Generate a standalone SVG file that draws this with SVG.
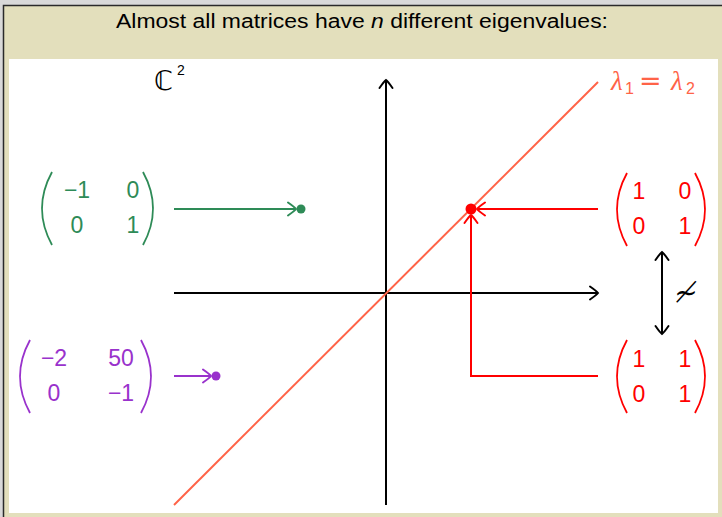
<svg xmlns="http://www.w3.org/2000/svg" width="722" height="517" viewBox="0 0 722 517">
<style>
.sans{font-family:"Liberation Sans","DejaVu Sans",sans-serif;}
.num{font-family:"Liberation Sans","DejaVu Sans",sans-serif;font-size:23px;text-anchor:middle;}
.paren{fill:none;stroke-width:1.8;}
.ax{stroke:#000;stroke-width:2;fill:none;}
.g{fill:#2e8b57;} .gs{stroke:#2e8b57;}
.p{fill:#9932cc;} .ps{stroke:#9932cc;}
.r{fill:#ff0000;} .rs{stroke:#ff0000;}
</style>
<defs>
<marker id="toK" viewBox="-10 -8 12 16" refX="0" refY="0" markerWidth="12" markerHeight="16" markerUnits="userSpaceOnUse" orient="auto-start-reverse">
<path d="M-8,-6.5 Q-1.5,-2 0,0 Q-1.5,2 -8,6.5" fill="none" stroke="#000" stroke-width="2" stroke-linecap="round"/>
</marker>
<marker id="toG" viewBox="-10 -8 12 16" refX="0" refY="0" markerWidth="12" markerHeight="16" markerUnits="userSpaceOnUse" orient="auto">
<path d="M-8,-6.5 Q-1.5,-2 0,0 Q-1.5,2 -8,6.5" fill="none" stroke="#2e8b57" stroke-width="2" stroke-linecap="round"/>
</marker>
<marker id="toP" viewBox="-10 -8 12 16" refX="0" refY="0" markerWidth="12" markerHeight="16" markerUnits="userSpaceOnUse" orient="auto">
<path d="M-8,-6.5 Q-1.5,-2 0,0 Q-1.5,2 -8,6.5" fill="none" stroke="#9932cc" stroke-width="2" stroke-linecap="round"/>
</marker>
<marker id="toR" viewBox="-10 -8 12 16" refX="0" refY="0" markerWidth="12" markerHeight="16" markerUnits="userSpaceOnUse" orient="auto">
<path d="M-8,-6.5 Q-1.5,-2 0,0 Q-1.5,2 -8,6.5" fill="none" stroke="#ff0000" stroke-width="2" stroke-linecap="round"/>
</marker>
</defs>
<!-- background -->
<rect x="0" y="0" width="722" height="517" fill="#d9d9d9"/>
<rect x="3.5" y="5.5" width="720" height="513" fill="#e3dfbc" stroke="#2a2a2a" stroke-width="1.5"/>
<rect x="9" y="59" width="709" height="454" fill="#ffffff"/>

<g id="title">
<text class="sans" x="362" y="28" font-size="20" text-anchor="middle" textLength="492" lengthAdjust="spacingAndGlyphs">Almost all matrices have <tspan font-style="italic">n</tspan> different eigenvalues:</text>
</g>

<g id="space-label">
<text x="154" y="90" font-family="DejaVu Sans, sans-serif" font-size="27" fill="#000">ℂ</text>
<text x="177" y="75" font-family="Liberation Sans, sans-serif" font-size="14" fill="#000">2</text>
</g>

<g id="axes">
<line class="ax" x1="174" y1="293" x2="598" y2="293" marker-end="url(#toK)"/>
<line class="ax" x1="386" y1="505" x2="386" y2="80" marker-end="url(#toK)"/>
</g>

<g id="diagonal">
<line x1="174" y1="505" x2="598" y2="82" stroke="#ff6347" stroke-width="2"/>
<g fill="#ff6347" font-family="Liberation Serif, DejaVu Serif, serif" font-size="27">
<text x="611" y="90" font-style="italic">λ</text>
<text x="625" y="94" font-size="16" font-family="Liberation Sans, sans-serif">1</text>
<text x="639" y="90" font-family="DejaVu Sans, sans-serif" font-size="27">=</text>
<text x="671" y="90" font-style="italic">λ</text>
<text x="686" y="94" font-size="16" font-family="Liberation Sans, sans-serif">2</text>
</g>
</g>

<g id="matrix-green">
<path class="paren gs" d="M52,172 Q32,208.5 52,245"/>
<path class="paren gs" d="M143,172 Q163,208.5 143,245"/>
<text class="num g" x="77" y="198">−1</text>
<text class="num g" x="133" y="198">0</text>
<text class="num g" x="77" y="233">0</text>
<text class="num g" x="133" y="233">1</text>
</g>

<g id="matrix-purple">
<path class="paren ps" d="M30,340 Q10,376.5 30,413"/>
<path class="paren ps" d="M141,340 Q161,376.5 141,413"/>
<text class="num p" x="54" y="366">−2</text>
<text class="num p" x="121" y="366">50</text>
<text class="num p" x="54" y="401">0</text>
<text class="num p" x="121" y="401">−1</text>
</g>

<g id="matrix-red-top">
<path class="paren rs" d="M627,173 Q607,209.5 627,246"/>
<path class="paren rs" d="M695,173 Q715,209.5 695,246"/>
<text class="num r" x="639" y="199">1</text>
<text class="num r" x="685" y="199">0</text>
<text class="num r" x="639" y="234">0</text>
<text class="num r" x="685" y="234">1</text>
</g>

<g id="matrix-red-bottom">
<path class="paren rs" d="M627,340 Q607,376.5 627,413"/>
<path class="paren rs" d="M695,340 Q715,376.5 695,413"/>
<text class="num r" x="639" y="367">1</text>
<text class="num r" x="685" y="367">1</text>
<text class="num r" x="639" y="402">0</text>
<text class="num r" x="685" y="402">1</text>
</g>

<g id="point-green"><circle cx="301" cy="209" r="4.5" fill="#2e8b57"/></g>
<g id="point-purple"><circle cx="216" cy="376" r="4.5" fill="#9932cc"/></g>
<g id="point-red"><circle cx="471" cy="209" r="5.5" fill="#ff0000"/></g>

<g id="connectors" fill="none" stroke-width="2">
<line x1="174" y1="209" x2="296" y2="209" stroke="#2e8b57" marker-end="url(#toG)"/>
<line x1="174" y1="376" x2="211" y2="376" stroke="#9932cc" marker-end="url(#toP)"/>
<line x1="598" y1="209" x2="477" y2="209" stroke="#ff0000" marker-end="url(#toR)"/>
<path d="M598,376 H471 V215" stroke="#ff0000" marker-end="url(#toR)"/>
<line x1="662" y1="252" x2="662" y2="334" stroke="#000" marker-start="url(#toK)" marker-end="url(#toK)"/>
</g>

<g id="not-similar">
<text x="686" y="302" font-family="DejaVu Serif, serif" font-size="28" text-anchor="middle" fill="#000">≁</text>
</g>
</svg>
